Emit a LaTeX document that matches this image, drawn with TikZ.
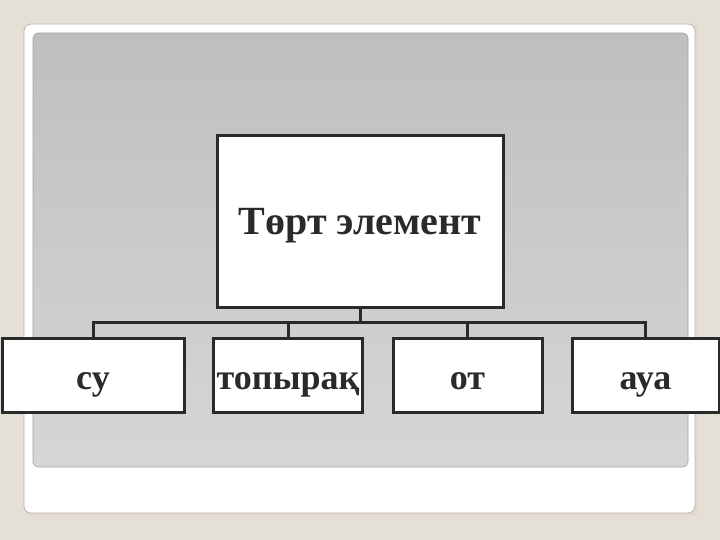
\documentclass[tikz,border=0pt]{standalone}
\usepackage{fontspec}
\setmainfont{Liberation Serif}
\definecolor{pagebg}{HTML}{E4E0D6}
\definecolor{panelline}{HTML}{B8B4AC}
\definecolor{graytop}{HTML}{BFBFBF}
\definecolor{graybot}{HTML}{D6D6D6}
\definecolor{ink}{HTML}{2A2A2A}
\tikzset{
  box/.style={draw=ink, line width=3pt, fill=white, inner sep=0pt, text=ink},
  conn/.style={draw=ink, line width=3pt},
  lbl/.style={font=\fontsize{36}{40}\selectfont\bfseries, text height=28pt, text depth=0pt}
}
\begin{document}
\begin{tikzpicture}[x=1pt,y=-1pt]
\useasboundingbox (0,0) rectangle (720,540);
\fill[pagebg] (0,0) rectangle (720,540);
\fill[pagebg!92!red!40!pagebg] (26,26) rectangle (698,516);
\draw[panelline, fill=white, line width=0.8pt, rounded corners=7pt] (24,24) rectangle (695,513);
\shade[top color=graytop, bottom color=graybot, rounded corners=5pt, draw=graytop!85!black, line width=0.6pt] (33,33) rectangle (688,467);
\node[box, minimum width=286pt, minimum height=171pt, font=\fontsize{40}{44}\selectfont\bfseries, text height=27pt, text depth=0pt] (top) at (360,221.5) {Төрт элемент};
\node[box, lbl, minimum width=182pt, minimum height=74pt] (b1) at (93,375) {су};
\node[box, lbl, minimum width=149pt, minimum height=74pt] (b2) at (288,375) {топырақ};
\node[box, lbl, minimum width=149pt, minimum height=74pt] (b3) at (467.5,375) {от};
\node[box, lbl, minimum width=147pt, minimum height=74pt] (b4) at (645.5,375) {ауа};
\coordinate (j) at (360,322.5);
\draw[conn] (top.south) -- (j);
\draw[conn] (b1.north) |- (b4.north |- j) -- (b4.north);
\draw[conn] (b2.north) -- (b2.north |- j);
\draw[conn] (b3.north) -- (b3.north |- j);
\end{tikzpicture}
\end{document}
